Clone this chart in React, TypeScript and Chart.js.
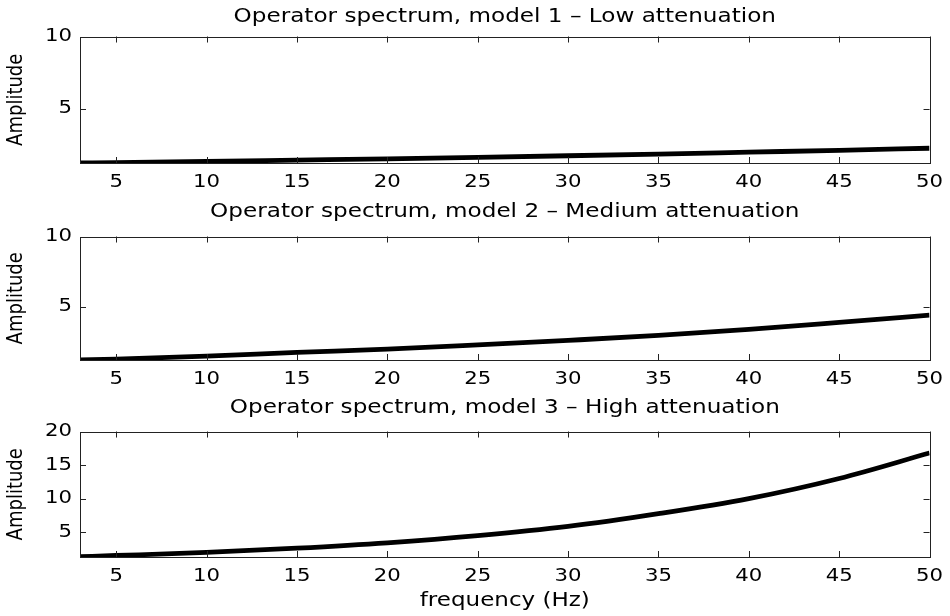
import React, { useEffect, useRef } from "react";
import { Chart, registerables } from "chart.js";

Chart.register(...registerables);

// ---- data ----
const frequencies = [3, 5, 10, 15, 20, 25, 30, 35, 40, 45, 50];
const ampLow = [1.25, 1.28, 1.36, 1.45, 1.54, 1.64, 1.75, 1.87, 2.0, 2.13, 2.27];
const ampMedium = [1.2, 1.26, 1.48, 1.74, 1.98, 2.28, 2.6, 2.95, 3.38, 3.88, 4.4];
const ampHigh = [1.35, 1.52, 1.98, 2.62, 3.42, 4.48, 5.85, 7.75, 10.0, 13.0, 16.8];
const panelTitles = [
  "Operator spectrum, model 1 \u2013 Low attenuation",
  "Operator spectrum, model 2 \u2013 Medium attenuation",
  "Operator spectrum, model 3 \u2013 High attenuation",
];
const yMins = [1.25, 1.2, 1.3];
const yMaxs = [10, 10, 20];
const xMin = 3;
const xMax = 50;
const xStep = 5;
const yStep = 5;
const xLabel = "frequency (Hz)";
const yLabel = "Amplitude";

const FONT = "'DejaVu Sans', 'Liberation Sans', sans-serif";
const INK = "#000";
// the reference's lettering is horizontally stretched
const TEXT_STRETCH_X = 1.18;

function stretchCanvasText(ctx: any) {
  if (ctx.__stretched) return;
  const orig = ctx.fillText.bind(ctx);
  ctx.fillText = function (text: string, x: number, y: number, maxWidth?: number) {
    ctx.save();
    ctx.translate(x, y);
    const m = ctx.getTransform();
    const s = new DOMMatrix()
      .translate(m.e, m.f)
      .scale(TEXT_STRETCH_X, 1)
      .translate(-m.e, -m.f)
      .multiply(m);
    ctx.setTransform(s);
    if (maxWidth === undefined) orig(text, 0, 0);
    else orig(text, 0, 0, maxWidth);
    ctx.restore();
  };
  ctx.__stretched = true;
}

const boxPlugin = {
  id: "matlabBox",
  beforeDraw(chart: any) {
    stretchCanvasText(chart.ctx);
  },
  afterDatasetsDraw(chart: any) {
    const { ctx, chartArea: a, scales } = chart;
    const L = 6;
    ctx.save();
    ctx.strokeStyle = "#222";
    ctx.lineWidth = 1;
    ctx.beginPath();
    scales.x.ticks.forEach((t: any) => {
      const px = Math.round(scales.x.getPixelForValue(t.value)) + 0.5;
      ctx.moveTo(px, a.bottom);
      ctx.lineTo(px, a.bottom - L);
      ctx.moveTo(px, a.top);
      ctx.lineTo(px, a.top + L);
    });
    scales.y.ticks.forEach((t: any) => {
      const py = Math.round(scales.y.getPixelForValue(t.value)) + 0.5;
      ctx.moveTo(a.left, py);
      ctx.lineTo(a.left + L, py);
      ctx.moveTo(a.right, py);
      ctx.lineTo(a.right - L, py);
    });
    ctx.stroke();
    ctx.strokeRect(
      Math.round(a.left) + 0.5,
      Math.round(a.top) + 0.5,
      Math.round(a.right - a.left),
      Math.round(a.bottom - a.top)
    );
    ctx.restore();
  },
};

type PanelProps = {
  top: number;
  height: number;
  values: number[];
  title: string;
  yMin: number;
  yMax: number;
  titlePadTop: number;
  titlePadBottom: number;
  xAxisHeight: number;
  showXLabel: boolean;
};

function Panel(p: PanelProps) {
  const ref = useRef<HTMLCanvasElement | null>(null);
  useEffect(() => {
    if (!ref.current) return;
    const chart = new Chart(ref.current, {
      type: "line",
      data: {
        datasets: [
          {
            data: frequencies.map((f, i) => ({ x: f, y: p.values[i] })),
            borderColor: "#000",
            borderWidth: 4.8,
            pointRadius: 0,
            cubicInterpolationMode: "monotone",
            fill: false,
          },
        ],
      },
      options: {
        animation: false,
        responsive: false,
        devicePixelRatio: 1,
        layout: { padding: { left: 0, right: 20, top: 0, bottom: 0 } },
        plugins: {
          legend: { display: false },
          tooltip: { enabled: false },
          title: {
            display: true,
            fullSize: false,
            text: p.title,
            color: INK,
            font: { family: FONT, size: 19.6, weight: "normal" },
            padding: { top: p.titlePadTop, bottom: p.titlePadBottom },
          },
        },
        scales: {
          x: {
            type: "linear",
            min: xMin,
            max: xMax,
            grid: { display: false, drawTicks: false },
            border: { display: false },
            ticks: {
              stepSize: xStep,
              includeBounds: false,
              autoSkip: false,
              color: INK,
              padding: 9,
              maxRotation: 0,
              font: { family: FONT, size: 18 },
            },
            title: {
              display: p.showXLabel,
              text: xLabel,
              color: INK,
              font: { family: FONT, size: 19.5 },
              padding: { top: 0, bottom: 3 },
            },
            afterFit: (s: any) => {
              s.height = p.xAxisHeight;
            },
          },
          y: {
            type: "linear",
            min: p.yMin,
            max: p.yMax,
            grid: { display: false, drawTicks: false },
            border: { display: false },
            ticks: {
              stepSize: yStep,
              includeBounds: false,
              color: INK,
              padding: 8,
              font: { family: FONT, size: 18 },
            },
            title: {
              display: true,
              text: yLabel,
              color: INK,
              font: { family: FONT, size: 18 },
              padding: { top: 6, bottom: 0 },
            },
            afterFit: (s: any) => {
              s.width = 80;
            },
          },
        },
      },
      plugins: [boxPlugin],
    } as any);
    return () => chart.destroy();
  }, []);
  return (
    <canvas
      ref={ref}
      width={950}
      height={p.height}
      style={{ position: "absolute", left: 0, top: p.top, width: 950, height: p.height, display: "block" }}
    />
  );
}

export default function App() {
  return (
    <div style={{ position: "fixed", left: 0, top: 0, width: 950, height: 616, background: "#fff" }}>
      <Panel top={0} height={200} values={ampLow} title={panelTitles[0]} yMin={yMins[0]} yMax={yMaxs[0]}
        titlePadTop={5} titlePadBottom={8} xAxisHeight={37} showXLabel={false} />
      <Panel top={195} height={197} values={ampMedium} title={panelTitles[1]} yMin={yMins[1]} yMax={yMaxs[1]}
        titlePadTop={5} titlePadBottom={13} xAxisHeight={32} showXLabel={false} />
      <Panel top={392} height={224} values={ampHigh} title={panelTitles[2]} yMin={yMins[2]} yMax={yMaxs[2]}
        titlePadTop={4} titlePadBottom={12} xAxisHeight={59} showXLabel={true} />
    </div>
  );
}
